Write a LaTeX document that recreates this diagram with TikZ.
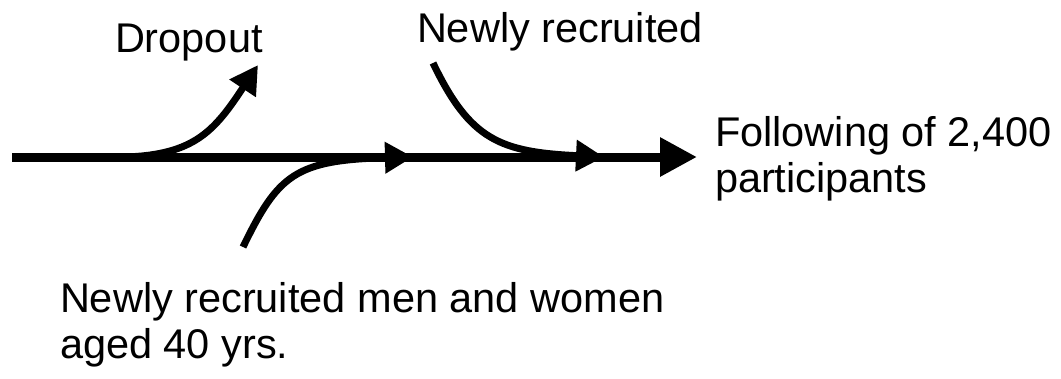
\documentclass[tikz,border=0pt]{standalone}
\usepackage{fontspec}
\setmainfont{Liberation Sans}
\usetikzlibrary{arrows.meta}
\begin{document}
\begin{tikzpicture}[x=1pt,y=-1pt,
  lbl/.style={inner sep=0pt, outer sep=0pt, anchor=base west, align=left,
    font=\fontsize{41.5}{46}\selectfont},
  mainline/.style={line width=9pt, -{Triangle[length=37pt,width=37pt]}},
  branch/.style={line width=7pt, line cap=butt, -{Triangle[length=28pt,width=30pt]}}]
\useasboundingbox (0,0) rectangle (1061,378);
% labels (base anchor of a two-line node is the last line's baseline)
\node[lbl] (drop) at (115,52) {Dropout};
\node[lbl] (newr) at (417,42) {Newly recruited};
\node[lbl] (follow) at (715,192) {Following of 2,400\\participants};
\node[lbl] (men) at (60,358) {Newly recruited men and women\\aged 40 yrs.};
% coordinates
\coordinate (src) at (12,157);
\coordinate (endtip) at (697,157);
\coordinate (dropstart) at (125,157);
\coordinate (droptip) at (258,65);
\coordinate (lowstart) at (243,247);
\coordinate (lowtip) at (413,157);
\coordinate (upstart) at (433,63);
\coordinate (uptip) at (604,157);
% main flow
\draw[mainline] (src) -- (endtip);
% dropout branch
\draw[branch] (dropstart) .. controls (195,155) and (215,130) .. (droptip);
% newly recruited (lower)
\draw[branch] (lowstart) .. controls (278,175) and (295,160) .. (lowtip);
% newly recruited (upper)
\draw[branch] (upstart) .. controls (470,140) and (500,152) .. (uptip);
\end{tikzpicture}
\end{document}
